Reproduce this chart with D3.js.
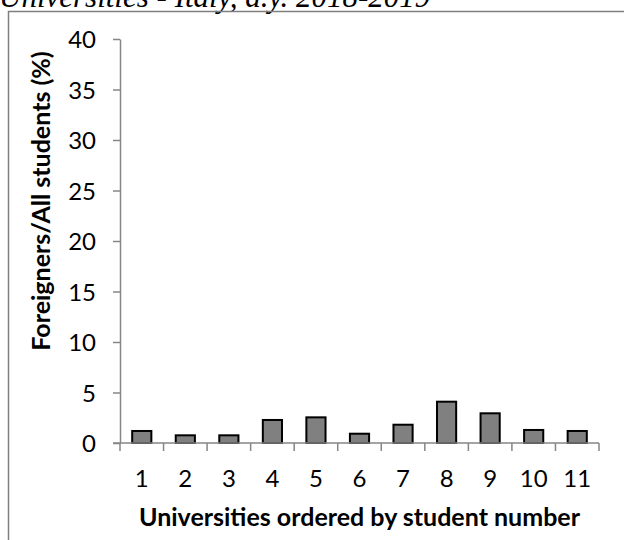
<!DOCTYPE html>
<html>
<head>
<meta charset="utf-8">
<script src="https://cdn.jsdelivr.net/npm/d3@7"></script>
<style>
  body { margin: 0; background: #fff; }
  svg { display: block; }
  .tick text { font-family: Lato, "Open Sans", sans-serif; }
</style>
</head>
<body>
<svg id="chart" width="624" height="540"></svg>
<script>
// universities 1..11 ordered by student number
const universities = ["1", "2", "3", "4", "5", "6", "7", "8", "9", "10", "11"];
const foreignShare = [1.19, 0.76, 0.76, 2.28, 2.54, 0.92, 1.81, 4.09, 2.94, 1.29, 1.19];
const yTicks = [0, 5, 10, 15, 20, 25, 30, 35, 40];

const svg = d3.select("#chart");
const margin = { left: 120, right: 25, top: 39, bottom: 97 };
const width = 624, height = 540;

// caption, cut off at the top like in the source
svg.append("text")
    .attr("x", -1)
    .attr("y", 7)
    .style("font-family", "'Liberation Serif', 'DejaVu Serif', serif")
    .style("font-style", "italic")
    .style("font-size", "31px")
    .attr("fill", "#000")
    .text("Universities - Italy, a.y. 2018-2019");

// chart frame (runs past the window)
svg.append("rect")
    .attr("x", 8.5).attr("y", 11.5)
    .attr("width", 640).attr("height", 560)
    .attr("fill", "none")
    .attr("stroke", "#7f7f7f")
    .attr("stroke-width", 1.5);

const x = d3.scaleBand()
    .domain(universities)
    .range([margin.left, 599])
    .paddingInner(0.56)
    .paddingOuter(0.28);

const y = d3.scaleLinear()
    .domain([0, 40])
    .range([443, margin.top]);

// bars
svg.append("g")
  .selectAll("rect")
  .data(foreignShare)
  .join("rect")
    .attr("x", (d, i) => x(universities[i]))
    .attr("y", d => y(d))
    .attr("width", x.bandwidth())
    .attr("height", d => y(0) - y(d))
    .attr("fill", "#808080")
    .attr("stroke", "#000")
    .attr("stroke-width", 2);

// y axis
const yAxis = svg.append("g")
    .attr("transform", `translate(${margin.left},0)`)
    .call(d3.axisLeft(y).tickValues(yTicks).tickSize(7).tickSizeOuter(0).tickPadding(17));
yAxis.selectAll(".tick text").style("font-size", "24px").attr("fill", "#000").attr("dy", "0.36em");

// x axis: ticks on category boundaries
const step = x.step();
const bounds = d3.range(universities.length + 1).map(i => margin.left + i * step);
const xg = svg.append("g");
xg.append("line")
    .attr("x1", 113).attr("x2", 599)
    .attr("y1", y(0)).attr("y2", y(0));
xg.selectAll("line.b")
  .data(bounds)
  .join("line")
    .attr("class", "b")
    .attr("x1", d => d).attr("x2", d => d)
    .attr("y1", y(0)).attr("y2", y(0) + 8);
xg.selectAll("line").attr("stroke", "#868686").attr("stroke-width", 1.5);
xg.selectAll("text")
  .data(universities)
  .join("text")
    .attr("x", d => x(d) + x.bandwidth() / 2)
    .attr("y", 487)
    .attr("text-anchor", "middle")
    .style("font-family", "Lato, 'Open Sans', sans-serif")
    .style("font-size", "24px")
    .text(d => d);

yAxis.select(".domain").attr("stroke", "#868686").attr("stroke-width", 1.5);
yAxis.selectAll(".tick line").attr("stroke", "#868686").attr("stroke-width", 1.5);

// axis titles
svg.append("text")
    .attr("x", (margin.left + 599) / 2)
    .attr("y", 526)
    .attr("text-anchor", "middle")
    .style("font-family", "Lato, 'Open Sans', sans-serif")
    .style("font-weight", "bold")
    .style("font-size", "25px")
    .text("Universities ordered by student number");

svg.append("text")
    .attr("transform", "translate(50,201) rotate(-90)")
    .attr("text-anchor", "middle")
    .style("font-family", "Lato, 'Open Sans', sans-serif")
    .style("font-weight", "bold")
    .style("font-size", "25px")
    .text("Foreigners/All students (%)");
</script>
</body>
</html>
